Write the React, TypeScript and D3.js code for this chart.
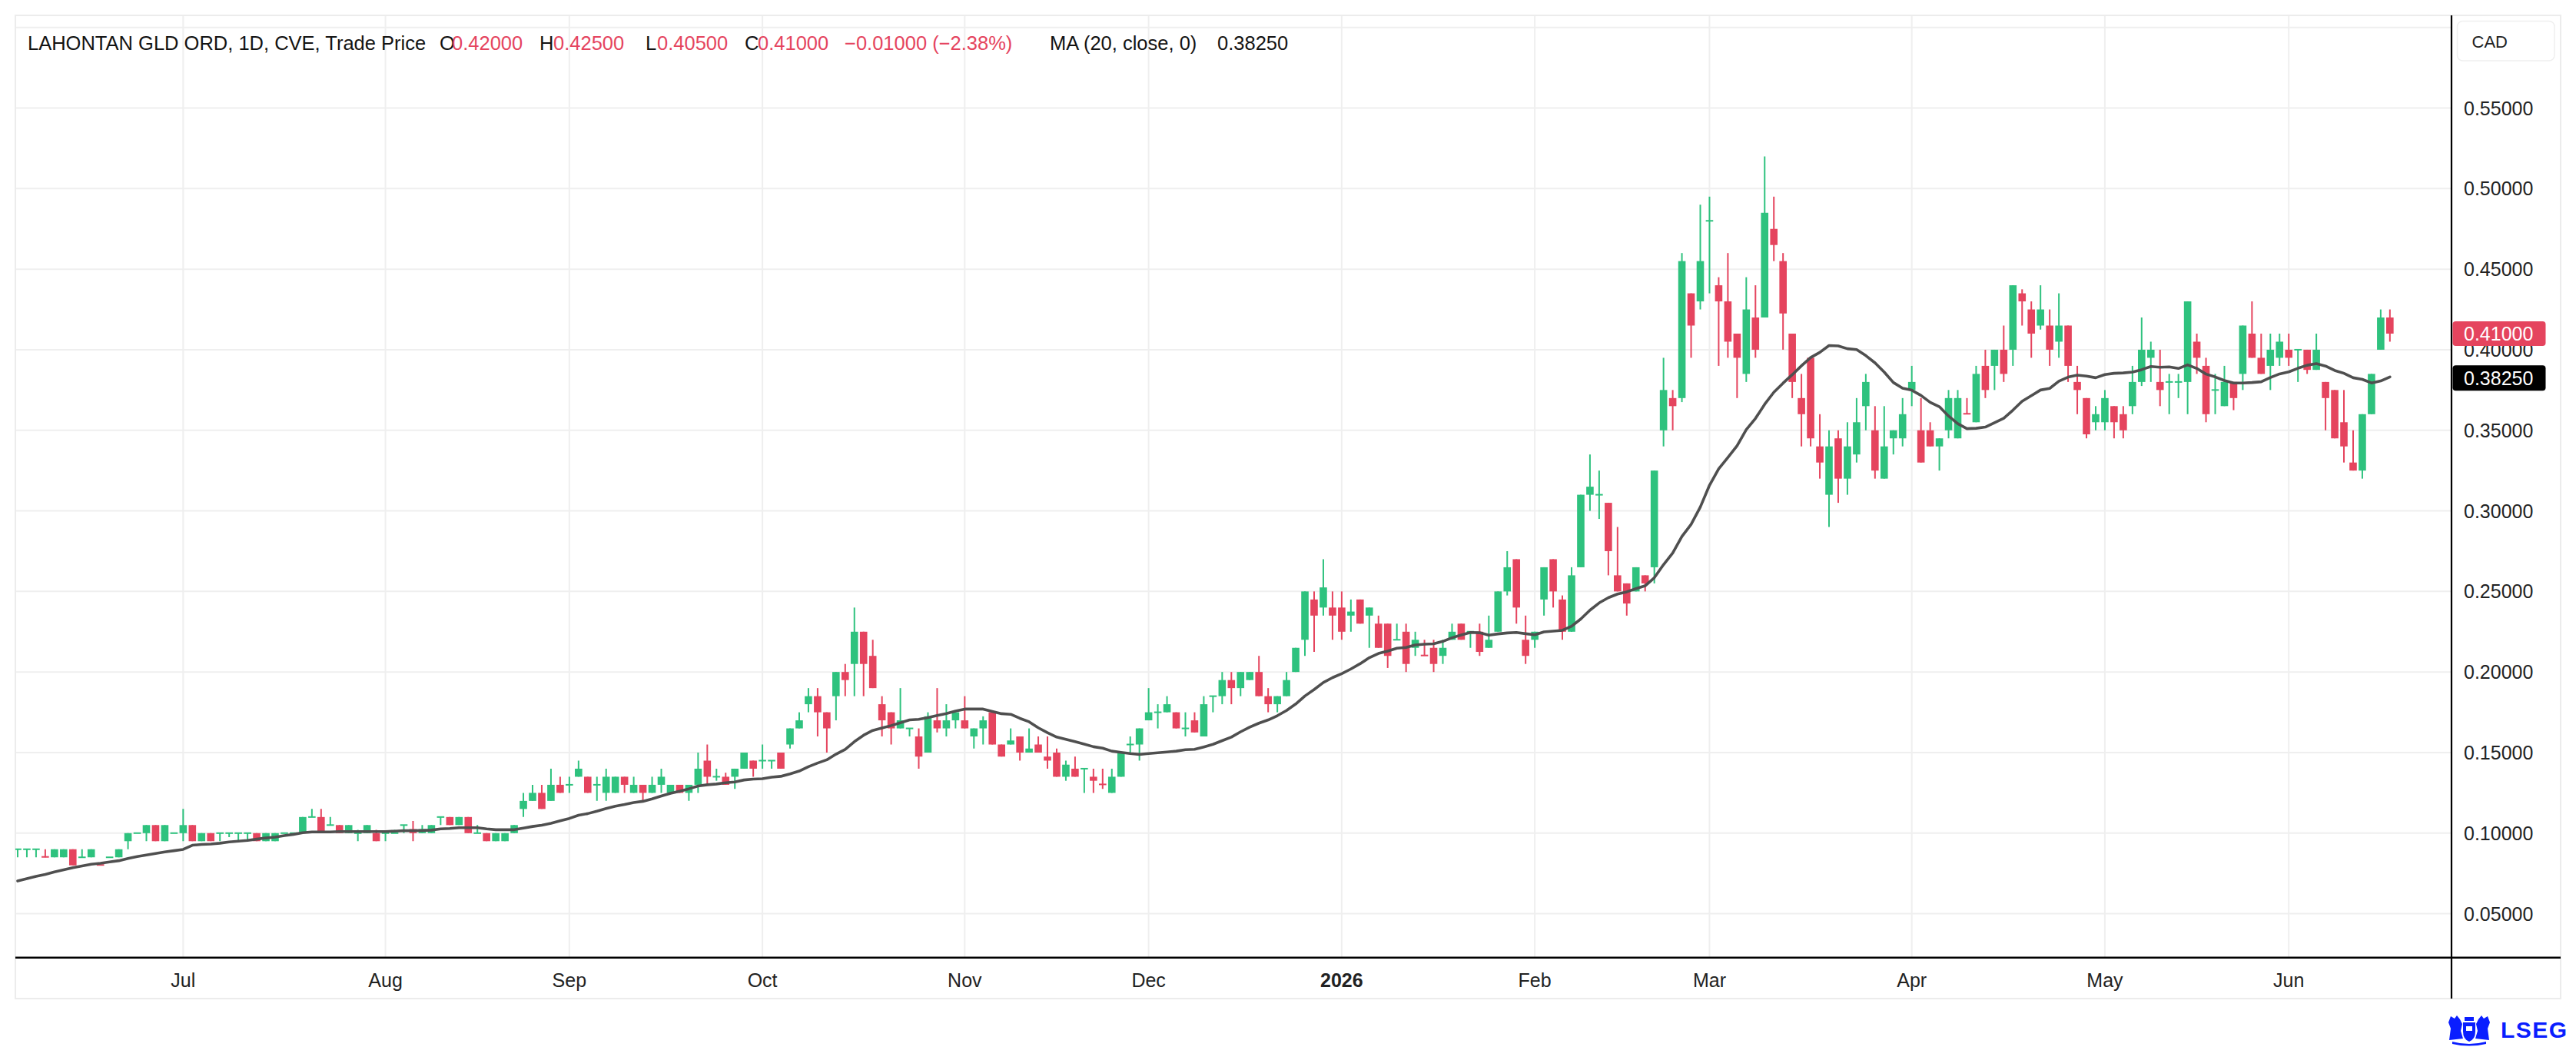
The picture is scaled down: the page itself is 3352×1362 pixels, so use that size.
import React from 'react';
import * as d3 from 'd3';

// ---------- DATA ----------
const opens = [
  0.09, 0.09, 0.09, 0.0855, 0.085, 0.085, 0.09, 0.085, 0.085, 0.0805,
  0.085, 0.085, 0.095, 0.10, 0.10, 0.105, 0.095, 0.10, 0.10, 0.105,
  0.095, 0.10, 0.10, 0.10, 0.10, 0.10, 0.10, 0.095, 0.095, 0.10,
  0.10, 0.10, 0.11, 0.11, 0.105, 0.105, 0.10, 0.10, 0.10, 0.10,
  0.10, 0.10, 0.105, 0.1025, 0.10, 0.10, 0.11, 0.11, 0.105, 0.11,
  0.10, 0.10, 0.095, 0.095, 0.10, 0.115, 0.12, 0.125, 0.12, 0.13,
  0.13, 0.135, 0.135, 0.13, 0.125, 0.125, 0.135, 0.125, 0.13, 0.125,
  0.13, 0.125, 0.13, 0.125, 0.13, 0.145, 0.135, 0.135, 0.135, 0.14,
  0.145, 0.145, 0.145, 0.15, 0.155, 0.165, 0.18, 0.185, 0.175, 0.185,
  0.20, 0.205, 0.225, 0.21, 0.18, 0.175, 0.165, 0.165, 0.16, 0.15,
  0.17, 0.165, 0.17, 0.17, 0.16, 0.165, 0.175, 0.155, 0.155, 0.16,
  0.15, 0.155, 0.1475, 0.15, 0.135, 0.14, 0.14, 0.135, 0.1305, 0.125,
  0.135, 0.155, 0.155, 0.17, 0.175, 0.175, 0.175, 0.165, 0.17, 0.16,
  0.185, 0.185, 0.195, 0.19, 0.195, 0.20, 0.185, 0.18, 0.185, 0.20,
  0.22, 0.245, 0.24, 0.24, 0.24, 0.235, 0.245, 0.235, 0.23, 0.23,
  0.22, 0.225, 0.215, 0.2105, 0.215, 0.21, 0.22, 0.23, 0.225, 0.225,
  0.215, 0.225, 0.25, 0.27, 0.22, 0.22, 0.245, 0.27, 0.245, 0.225,
  0.265, 0.31, 0.31, 0.305, 0.26, 0.255, 0.25, 0.26, 0.265, 0.35,
  0.37, 0.37, 0.435, 0.43, 0.48, 0.44, 0.43, 0.41, 0.385, 0.42,
  0.42, 0.475, 0.455, 0.41, 0.37, 0.395, 0.34, 0.31, 0.345, 0.32,
  0.335, 0.365, 0.35, 0.32, 0.345, 0.345, 0.375, 0.35, 0.35, 0.34,
  0.35, 0.345, 0.3605, 0.355, 0.39, 0.39, 0.40, 0.40, 0.435, 0.425,
  0.415, 0.415, 0.405, 0.415, 0.38, 0.37, 0.355, 0.355, 0.365, 0.36,
  0.365, 0.38, 0.395, 0.38, 0.38, 0.38, 0.38, 0.405, 0.39, 0.375,
  0.365, 0.38, 0.385, 0.41, 0.395, 0.39, 0.395, 0.40, 0.40, 0.40,
  0.3875, 0.38, 0.375, 0.355, 0.33, 0.325, 0.36, 0.40, 0.42,
];

const highs = [
  0.09, 0.09, 0.09, 0.09, 0.09, 0.09, 0.09, 0.09, 0.09, 0.0805,
  0.085, 0.09, 0.10, 0.10, 0.105, 0.105, 0.105, 0.10, 0.115, 0.105,
  0.10, 0.10, 0.10, 0.10, 0.10, 0.10, 0.10, 0.10, 0.10, 0.10,
  0.10, 0.11, 0.115, 0.115, 0.11, 0.105, 0.105, 0.102, 0.105, 0.102,
  0.10, 0.102, 0.105, 0.1075, 0.105, 0.105, 0.11, 0.11, 0.11, 0.11,
  0.105, 0.10, 0.10, 0.10, 0.105, 0.125, 0.13, 0.13, 0.14, 0.135,
  0.135, 0.145, 0.135, 0.135, 0.14, 0.135, 0.135, 0.135, 0.13, 0.135,
  0.14, 0.13, 0.13, 0.13, 0.15, 0.155, 0.14, 0.1375, 0.14, 0.15,
  0.145, 0.155, 0.145, 0.15, 0.165, 0.175, 0.19, 0.19, 0.175, 0.20,
  0.205, 0.24, 0.225, 0.22, 0.185, 0.175, 0.19, 0.165, 0.165, 0.175,
  0.19, 0.18, 0.175, 0.185, 0.165, 0.1725, 0.175, 0.155, 0.165, 0.16,
  0.165, 0.16, 0.16, 0.1525, 0.145, 0.1475, 0.14, 0.14, 0.14, 0.14,
  0.15, 0.16, 0.165, 0.19, 0.18, 0.185, 0.175, 0.175, 0.175, 0.185,
  0.185, 0.20, 0.20, 0.20, 0.20, 0.21, 0.19, 0.185, 0.20, 0.215,
  0.25, 0.25, 0.27, 0.25, 0.25, 0.245, 0.245, 0.24, 0.235, 0.23,
  0.23, 0.23, 0.225, 0.22, 0.22, 0.22, 0.23, 0.23, 0.225, 0.23,
  0.235, 0.25, 0.275, 0.27, 0.235, 0.225, 0.265, 0.27, 0.2475, 0.265,
  0.31, 0.335, 0.325, 0.305, 0.29, 0.255, 0.265, 0.26, 0.325, 0.395,
  0.375, 0.46, 0.435, 0.49, 0.495, 0.445, 0.46, 0.41, 0.445, 0.44,
  0.52, 0.495, 0.46, 0.41, 0.385, 0.395, 0.36, 0.35, 0.35, 0.355,
  0.37, 0.385, 0.365, 0.365, 0.35, 0.37, 0.39, 0.37, 0.355, 0.345,
  0.375, 0.375, 0.37, 0.39, 0.40, 0.40, 0.415, 0.44, 0.4375, 0.43,
  0.44, 0.425, 0.435, 0.415, 0.39, 0.37, 0.365, 0.375, 0.365, 0.365,
  0.39, 0.42, 0.405, 0.40, 0.385, 0.385, 0.43, 0.41, 0.395, 0.385,
  0.39, 0.38, 0.415, 0.43, 0.41, 0.41, 0.41, 0.41, 0.40, 0.40,
  0.41, 0.38, 0.375, 0.375, 0.35, 0.36, 0.385, 0.425, 0.425,
];

const lows = [
  0.085, 0.085, 0.085, 0.085, 0.085, 0.085, 0.08, 0.085, 0.085, 0.08,
  0.085, 0.085, 0.09, 0.10, 0.095, 0.095, 0.095, 0.10, 0.095, 0.095,
  0.095, 0.095, 0.095, 0.0975, 0.095, 0.095, 0.095, 0.095, 0.095, 0.10,
  0.10, 0.10, 0.11, 0.10, 0.105, 0.10, 0.10, 0.095, 0.10, 0.095,
  0.095, 0.10, 0.10, 0.095, 0.10, 0.10, 0.105, 0.105, 0.105, 0.10,
  0.10, 0.095, 0.095, 0.095, 0.10, 0.11, 0.12, 0.115, 0.12, 0.125,
  0.125, 0.135, 0.125, 0.12, 0.12, 0.125, 0.125, 0.125, 0.12, 0.125,
  0.125, 0.125, 0.125, 0.12, 0.125, 0.13, 0.1325, 0.13, 0.1275, 0.14,
  0.135, 0.14, 0.14, 0.14, 0.1525, 0.165, 0.175, 0.16, 0.15, 0.17,
  0.185, 0.185, 0.185, 0.19, 0.16, 0.155, 0.165, 0.16, 0.14, 0.15,
  0.1625, 0.16, 0.165, 0.165, 0.1525, 0.155, 0.155, 0.1475, 0.155, 0.145,
  0.15, 0.15, 0.14, 0.135, 0.1325, 0.135, 0.125, 0.125, 0.1275, 0.125,
  0.135, 0.15, 0.145, 0.17, 0.165, 0.175, 0.165, 0.16, 0.1625, 0.16,
  0.175, 0.18, 0.18, 0.185, 0.195, 0.185, 0.175, 0.175, 0.185, 0.20,
  0.21, 0.2125, 0.235, 0.22, 0.22, 0.225, 0.23, 0.215, 0.215, 0.2025,
  0.22, 0.20, 0.21, 0.21, 0.20, 0.205, 0.22, 0.22, 0.215, 0.21,
  0.215, 0.225, 0.2475, 0.23, 0.205, 0.215, 0.235, 0.24, 0.22, 0.225,
  0.265, 0.30, 0.295, 0.26, 0.25, 0.235, 0.25, 0.25, 0.255, 0.34,
  0.35, 0.3675, 0.395, 0.425, 0.435, 0.39, 0.395, 0.37, 0.38, 0.395,
  0.42, 0.455, 0.40, 0.37, 0.34, 0.34, 0.32, 0.29, 0.305, 0.31,
  0.33, 0.35, 0.32, 0.32, 0.335, 0.34, 0.365, 0.33, 0.34, 0.325,
  0.345, 0.345, 0.36, 0.355, 0.37, 0.375, 0.38, 0.39, 0.415, 0.395,
  0.4125, 0.39, 0.395, 0.38, 0.36, 0.345, 0.35, 0.35, 0.345, 0.345,
  0.36, 0.3775, 0.38, 0.365, 0.36, 0.37, 0.36, 0.385, 0.355, 0.36,
  0.365, 0.3625, 0.375, 0.395, 0.385, 0.375, 0.39, 0.39, 0.38, 0.385,
  0.3875, 0.35, 0.345, 0.33, 0.325, 0.32, 0.36, 0.40, 0.405,
];

const closes = [
  0.09, 0.09, 0.09, 0.085, 0.09, 0.09, 0.08, 0.085, 0.09, 0.08,
  0.085, 0.09, 0.10, 0.10, 0.105, 0.095, 0.105, 0.10, 0.105, 0.095,
  0.10, 0.095, 0.10, 0.10, 0.10, 0.10, 0.095, 0.10, 0.10, 0.10,
  0.10, 0.11, 0.11, 0.10, 0.105, 0.10, 0.105, 0.10, 0.105, 0.095,
  0.10, 0.10, 0.105, 0.10, 0.1025, 0.105, 0.11, 0.105, 0.11, 0.10,
  0.10, 0.095, 0.10, 0.10, 0.105, 0.12, 0.125, 0.115, 0.13, 0.125,
  0.13, 0.14, 0.125, 0.13, 0.135, 0.135, 0.13, 0.13, 0.125, 0.13,
  0.135, 0.13, 0.125, 0.13, 0.14, 0.135, 0.135, 0.13, 0.14, 0.15,
  0.14, 0.145, 0.145, 0.14, 0.165, 0.17, 0.185, 0.175, 0.165, 0.20,
  0.195, 0.225, 0.205, 0.19, 0.17, 0.165, 0.17, 0.165, 0.1475, 0.1725,
  0.165, 0.17, 0.175, 0.165, 0.165, 0.17, 0.155, 0.1475, 0.1575, 0.15,
  0.1525, 0.15, 0.145, 0.135, 0.1425, 0.135, 0.14, 0.1325, 0.13, 0.135,
  0.15, 0.155, 0.165, 0.175, 0.175, 0.18, 0.165, 0.165, 0.1625, 0.18,
  0.185, 0.195, 0.19, 0.20, 0.20, 0.185, 0.18, 0.185, 0.195, 0.215,
  0.25, 0.235, 0.2525, 0.235, 0.225, 0.2375, 0.23, 0.24, 0.215, 0.21,
  0.22, 0.205, 0.22, 0.21, 0.205, 0.215, 0.225, 0.22, 0.225, 0.2125,
  0.22, 0.25, 0.265, 0.24, 0.21, 0.225, 0.265, 0.25, 0.225, 0.26,
  0.31, 0.315, 0.31, 0.275, 0.25, 0.2425, 0.265, 0.255, 0.325, 0.375,
  0.365, 0.455, 0.415, 0.455, 0.48, 0.43, 0.405, 0.395, 0.425, 0.40,
  0.485, 0.465, 0.4225, 0.38, 0.36, 0.345, 0.33, 0.34, 0.32, 0.34,
  0.355, 0.38, 0.325, 0.34, 0.35, 0.36, 0.38, 0.33, 0.34, 0.345,
  0.37, 0.37, 0.36, 0.385, 0.375, 0.40, 0.385, 0.44, 0.43, 0.41,
  0.425, 0.40, 0.415, 0.39, 0.375, 0.3475, 0.36, 0.37, 0.355, 0.35,
  0.38, 0.40, 0.40, 0.375, 0.38, 0.38, 0.43, 0.395, 0.36, 0.375,
  0.38, 0.37, 0.415, 0.395, 0.385, 0.40, 0.405, 0.395, 0.40, 0.3875,
  0.40, 0.37, 0.345, 0.34, 0.325, 0.36, 0.385, 0.42, 0.41,
];

// MA(20) values for the first candles (their history lies left of the chart)
const maHead = [
  0.0703, 0.0717, 0.0732, 0.0744, 0.0759, 0.0772, 0.0786, 0.0796, 0.0807, 0.0813,
  0.0821, 0.0829, 0.0843, 0.0855, 0.0864, 0.0874, 0.0883, 0.0891, 0.0899,
];
const maPeriod = 20;
const maLastShown = 0.3825;

const monthLabels = ['Jul', 'Aug', 'Sep', 'Oct', 'Nov', 'Dec', '2026', 'Feb', 'Mar', 'Apr', 'May', 'Jun'];
const monthIndex = [18, 40, 60, 81, 103, 123, 144, 165, 184, 206, 227, 247];

const gridValues = [0.05, 0.1, 0.15, 0.2, 0.25, 0.3, 0.35, 0.4, 0.45, 0.5, 0.55, 0.6];
const yTickValues = [0.05, 0.1, 0.15, 0.2, 0.25, 0.3, 0.35, 0.4, 0.45, 0.5, 0.55];

const titleText = 'LAHONTAN GLD ORD, 1D, CVE, Trade Price';
const currency = 'CAD';

// ---------- STYLE ----------
const UP = '#2ec27e';
const DOWN = '#e5445e';
const FONT = "'Liberation Sans', Arial, Helvetica, sans-serif";
const W = 3352;
const H = 1362;
const L = 20;
const R = 3190;
const T = 20;
const B = 1245.7;
const FR = 3332;
const FB = 1299;

export default function App() {
  const x = d3.scaleLinear().domain([-0.25, 264.7]).range([L, R]);
  const y = d3.scaleLinear().domain([0.02276, 0.6075]).range([B, T]);

  const ma = closes.map((c, i) =>
    i < maHead.length ? maHead[i] : (d3.mean(closes.slice(i - maPeriod + 1, i + 1)) as number)
  );
  const maPath = d3
    .line<number>()
    .x((_, i) => x(i))
    .y((d) => y(d))(ma) as string;

  const n = closes.length;
  const lastO = opens[n - 1];
  const lastH = highs[n - 1];
  const lastL = lows[n - 1];
  const lastC = closes[n - 1];
  const prevC = closes[n - 2];
  const chg = lastC - prevC;
  const pct = (chg / prevC) * 100;
  const sgn = (v: number) => (v < 0 ? '\u2212' : '+');
  const chgText = `${sgn(chg)}${Math.abs(chg).toFixed(5)} (${sgn(pct)}${Math.abs(pct).toFixed(2)}%)`;
  const lastUp = lastC >= lastO;
  const hdrColor = lastUp ? UP : DOWN;

  const bodyW = 9.6;

  return (
    <svg
      width={W}
      height={H}
      viewBox={`0 0 ${W} ${H}`}
      style={{ position: 'absolute', left: 0, top: 0, background: '#fff' }}
      fontFamily={FONT}
    >
      <defs>
        <clipPath id="plotClip">
          <rect x={L} y={T} width={R - L} height={B - T} />
        </clipPath>
      </defs>
      <rect x={0} y={0} width={W} height={H} fill="#ffffff" />

      {/* grid */}
      <g>
        {gridValues.map((v) => (
          <line key={'h' + v} x1={L} x2={R} y1={y(v)} y2={y(v)} stroke="#efefef" strokeWidth={2} />
        ))}
        {monthIndex.map((mi, k) => (
          <line key={'v' + k} x1={x(mi)} x2={x(mi)} y1={T} y2={B} stroke="#efefef" strokeWidth={2} />
        ))}
      </g>

      {/* frame */}
      <rect x={L} y={T} width={FR - L} height={FB - T} fill="none" stroke="#ececec" strokeWidth={2} />

      {/* candles */}
      <g clipPath="url(#plotClip)">
        {closes.map((c, i) => {
          const o = opens[i];
          const up = c >= o;
          const col = up ? UP : DOWN;
          const cx = x(i);
          const yTop = y(Math.max(o, c));
          const yBot = y(Math.min(o, c));
          let bh = yBot - yTop;
          let by = yTop;
          if (bh < 2) {
            by = (yTop + yBot) / 2 - 1;
            bh = 2;
          }
          return (
            <g key={i}>
              <line x1={cx} x2={cx} y1={y(highs[i])} y2={y(lows[i])} stroke={col} strokeWidth={2} />
              <rect x={cx - bodyW / 2} y={by} width={bodyW} height={bh} fill={col} />
            </g>
          );
        })}
        <path d={maPath} fill="none" stroke="#4f4f4f" strokeWidth={3.6} strokeLinejoin="round" strokeLinecap="round" />
      </g>

      {/* axes lines */}
      <line x1={R} x2={R} y1={T} y2={FB} stroke="#000" strokeWidth={2.2} />
      <line x1={L} x2={FR} y1={B} y2={B} stroke="#000" strokeWidth={2.4} />

      {/* y tick labels */}
      <g fontSize={25} fill="#222">
        {yTickValues.map((v) => (
          <text key={'yt' + v} x={3206} y={y(v)} dominantBaseline="central">
            {v.toFixed(5)}
          </text>
        ))}
      </g>

      {/* currency box */}
      <rect x={3197.5} y={27.5} width={126.5} height={51.5} rx={7} fill="#fff" stroke="#efefef" strokeWidth={1.5} />
      <text x={3216.5} y={54} fontSize={22} fill="#222" dominantBaseline="central">
        {currency}
      </text>

      {/* last price tag */}
      <rect x={3191.5} y={y(lastC) - 16} width={121} height={32} rx={4} fill={hdrColor} />
      <text x={3206} y={y(lastC)} fontSize={25} fill="#fff" dominantBaseline="central">
        {lastC.toFixed(5)}
      </text>
      {/* MA tag */}
      <rect x={3191.5} y={y(maLastShown) - 16.5} width={121} height={33} rx={4} fill="#000" />
      <text x={3206} y={y(maLastShown)} fontSize={25} fill="#fff" dominantBaseline="central">
        {maLastShown.toFixed(5)}
      </text>

      {/* month labels */}
      <g fontSize={25} fill="#222" textAnchor="middle">
        {monthLabels.map((m, k) => (
          <text key={'m' + k} x={x(monthIndex[k])} y={1284} fontWeight={m === '2026' ? 700 : 400}>
            {m}
          </text>
        ))}
      </g>

      {/* header */}
      <g fontSize={25.5} fill="#131313">
        <text x={36} y={65}>{titleText}</text>
        <text x={572} y={65}>O</text>
        <text x={588} y={65} fill={hdrColor}>{lastO.toFixed(5)}</text>
        <text x={702} y={65}>H</text>
        <text x={720} y={65} fill={hdrColor}>{lastH.toFixed(5)}</text>
        <text x={840} y={65}>L</text>
        <text x={855} y={65} fill={hdrColor}>{lastL.toFixed(5)}</text>
        <text x={969} y={65}>C</text>
        <text x={986} y={65} fill={hdrColor}>{lastC.toFixed(5)}</text>
        <text x={1099} y={65} fill={hdrColor}>{chgText}</text>
        <text x={1366} y={65}>{`MA (${maPeriod}, close, 0)`}</text>
        <text x={1584} y={65}>{maLastShown.toFixed(5)}</text>
      </g>

      {/* LSEG logo */}
      <g fill="#0a1eff">
        <path d="M3187,1353 L3189,1338 L3186,1330 L3189,1322 L3194,1325 L3197,1321 L3201,1326 L3204,1332 L3202,1341 L3205,1351 Z" />
        <path d="M3239,1353 L3237,1338 L3240,1330 L3237,1322 L3232,1325 L3229,1321 L3225,1326 L3222,1332 L3224,1341 L3221,1351 Z" />
        <path d="M3205,1330 H3221 V1342 Q3221,1352 3213,1355 Q3205,1352 3205,1342 Z" />
        <rect x={3207} y={1323} width={12} height={5} />
        <path d="M3191,1355 Q3213,1361 3235,1355 L3235,1358 Q3213,1363 3191,1358 Z" />
        <path d="M3209,1335 h8 v6 h-8 z" fill="#ffffff" />
        <text x={3254} y={1350} fontSize={30} fontWeight={700} letterSpacing={1.5} fontFamily={FONT}>
          LSEG
        </text>
      </g>
    </svg>
  );
}
